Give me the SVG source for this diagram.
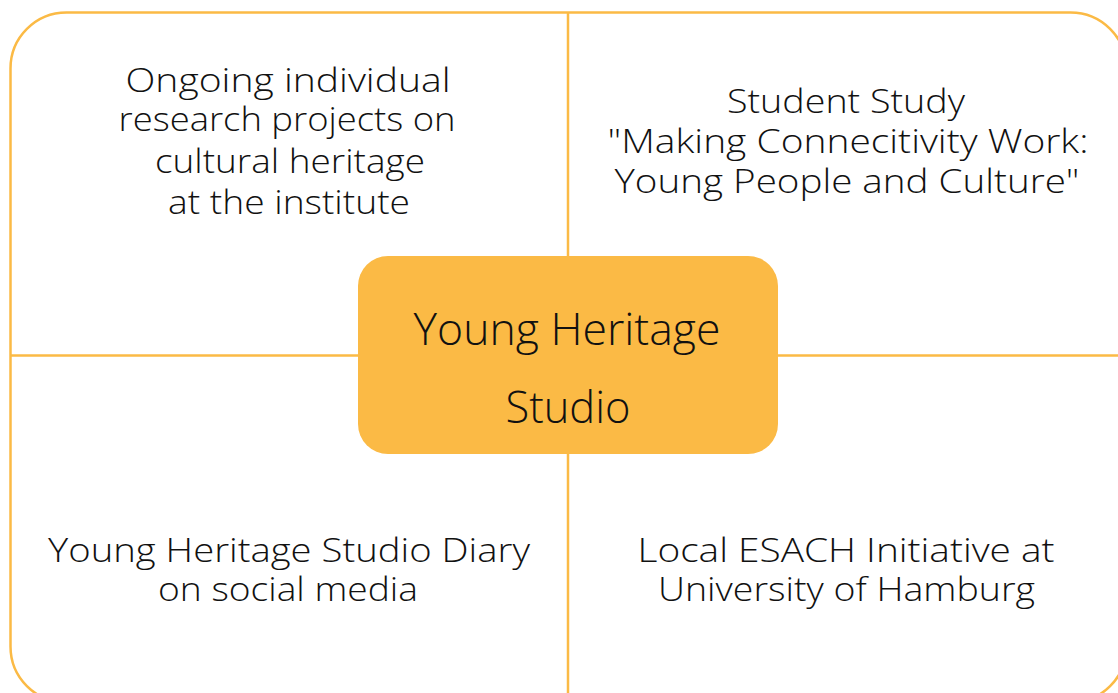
<svg xmlns="http://www.w3.org/2000/svg" width="1118" height="693" viewBox="0 0 1118 693">
<style>
.t{font-family:"Open Sans","Noto Sans","Liberation Sans",sans-serif;font-weight:300;font-size:33px;fill:#111;text-anchor:middle}
.c{font-size:44px}
.ln{stroke:#FBBA45;stroke-width:2.5;fill:none}
</style>
<rect width="1118" height="693" fill="#ffffff"/>
<g id="frame">
<rect class="ln" x="10.5" y="12.5" width="1116" height="690" rx="56" ry="56"/>
</g>
<g id="connectors">
<line class="ln" x1="568" y1="12.5" x2="568" y2="693"/>
<line class="ln" x1="10.5" y1="355.5" x2="1118" y2="355.5"/>
</g>
<g id="center">
<rect x="358" y="256" width="420" height="198" rx="30" ry="30" fill="#FBBA45"/>
<text class="t c" x="567" y="345" textLength="307" lengthAdjust="spacingAndGlyphs">Young Heritage</text>
<text class="t c" x="568" y="423" textLength="125" lengthAdjust="spacingAndGlyphs">Studio</text>
</g>
<g id="node-top-left">
<text class="t" x="288" y="92" textLength="325" lengthAdjust="spacingAndGlyphs">Ongoing individual</text>
<text class="t" x="287" y="131" textLength="337" lengthAdjust="spacingAndGlyphs">research projects on</text>
<text class="t" x="290" y="173" textLength="270" lengthAdjust="spacingAndGlyphs">cultural heritage</text>
<text class="t" x="289" y="214" textLength="242" lengthAdjust="spacingAndGlyphs">at the institute</text>
</g>
<g id="node-top-right">
<text class="t" x="846" y="113" textLength="238" lengthAdjust="spacingAndGlyphs">Student Study</text>
<text class="t" x="848" y="153" textLength="481" lengthAdjust="spacingAndGlyphs">"Making Connecitivity Work:</text>
<text class="t" x="847" y="193" textLength="465" lengthAdjust="spacingAndGlyphs">Young People and Culture"</text>
</g>
<g id="node-bottom-left">
<text class="t" x="289" y="562" textLength="482" lengthAdjust="spacingAndGlyphs">Young Heritage Studio Diary</text>
<text class="t" x="288" y="601" textLength="260" lengthAdjust="spacingAndGlyphs">on social media</text>
</g>
<g id="node-bottom-right">
<text class="t" x="846" y="562" textLength="417" lengthAdjust="spacingAndGlyphs">Local ESACH Initiative at</text>
<text class="t" x="846.5" y="601" textLength="377" lengthAdjust="spacingAndGlyphs">University of Hamburg</text>
</g>
</svg>
